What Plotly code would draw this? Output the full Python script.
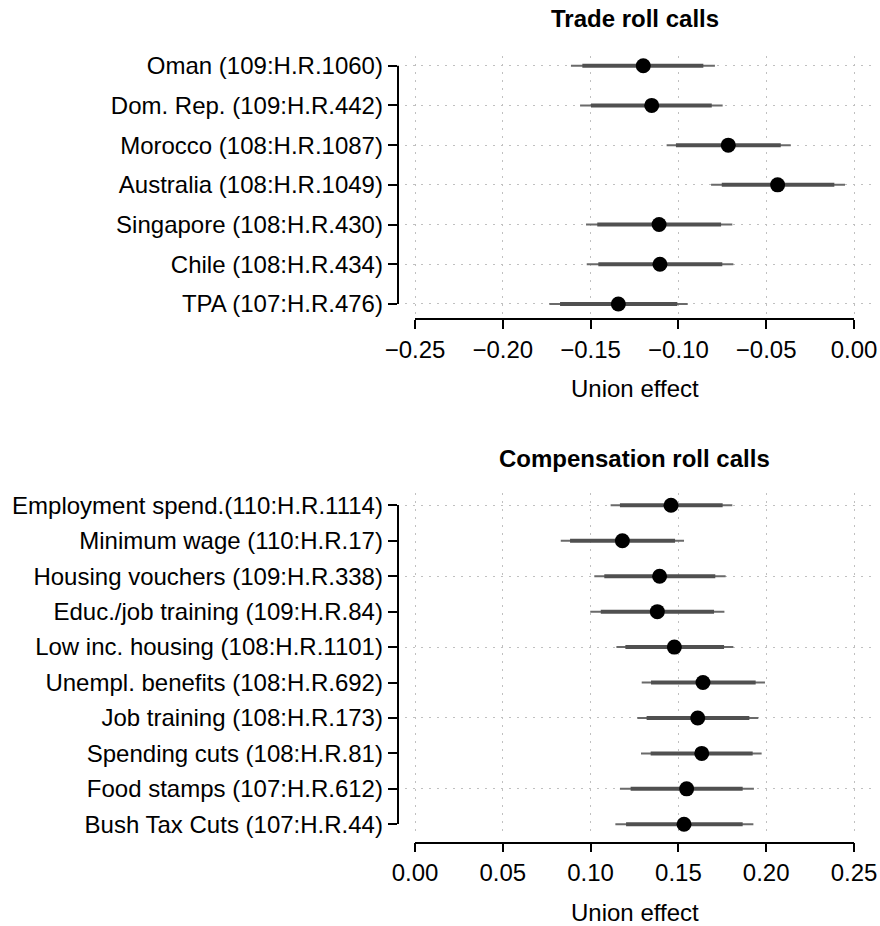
import plotly.graph_objects as go

W, H = 880, 926

# ---------------- data ----------------
trade_labels = ["Oman (109:H.R.1060)", "Dom. Rep. (109:H.R.442)", "Morocco (108:H.R.1087)",
                "Australia (108:H.R.1049)", "Singapore (108:H.R.430)", "Chile (108:H.R.434)",
                "TPA (107:H.R.476)"]
trade_est = [-0.1200, -0.1152, -0.0716, -0.0435, -0.1110, -0.1105, -0.1342]
trade_lo1 = [-0.1547, -0.1498, -0.1014, -0.0753, -0.1462, -0.1456, -0.1674]
trade_hi1 = [-0.0858, -0.0810, -0.0417, -0.0112, -0.0757, -0.0750, -0.1006]
trade_lo2 = [-0.1612, -0.1560, -0.1067, -0.0814, -0.1526, -0.1522, -0.1735]
trade_hi2 = [-0.0792, -0.0748, -0.0360, -0.0051, -0.0693, -0.0687, -0.0947]
trade_ticks = [-0.25, -0.20, -0.15, -0.10, -0.05, 0.00]
trade_ticktext = ["\u22120.25", "\u22120.20", "\u22120.15", "\u22120.10", "\u22120.05", "0.00"]

comp_labels = ["Employment spend.(110:H.R.1114)", "Minimum wage (110:H.R.17)",
               "Housing vouchers (109:H.R.338)", "Educ./job training (109:H.R.84)",
               "Low inc. housing (108:H.R.1101)", "Unempl. benefits (108:H.R.692)",
               "Job training (108:H.R.173)", "Spending cuts (108:H.R.81)",
               "Food stamps (107:H.R.612)", "Bush Tax Cuts (107:H.R.44)"]
comp_est = [0.1458, 0.1181, 0.1393, 0.1380, 0.1477, 0.1640, 0.1610, 0.1633, 0.1547, 0.1532]
comp_lo1 = [0.1167, 0.0883, 0.1078, 0.1058, 0.1198, 0.1344, 0.1319, 0.1342, 0.1228, 0.1202]
comp_hi1 = [0.1752, 0.1481, 0.1710, 0.1703, 0.1760, 0.1940, 0.1904, 0.1923, 0.1866, 0.1866]
comp_lo2 = [0.1114, 0.0830, 0.1021, 0.0998, 0.1147, 0.1291, 0.1266, 0.1287, 0.1167, 0.1141]
comp_hi2 = [0.1807, 0.1532, 0.1769, 0.1762, 0.1813, 0.1993, 0.1955, 0.1974, 0.1930, 0.1927]
comp_ticks = [0.00, 0.05, 0.10, 0.15, 0.20, 0.25]
comp_ticktext = ["0.00", "0.05", "0.10", "0.15", "0.20", "0.25"]

# ---------------- layout geometry (pixels) ----------------
FONT = "Liberation Sans, Arial, Helvetica, sans-serif"
FS = 24
X_L, X_R = 415.0, 854.0          # pixel span of the tick range
Y_AXIS_X = 397.5                  # x of the vertical axis line
GRID_COL = "#c0c0c0"
THIN_COL = "#6a6a6a"
THICK_COL = "#505050"

panels = [
    dict(labels=trade_labels, est=trade_est, lo1=trade_lo1, hi1=trade_hi1,
         lo2=trade_lo2, hi2=trade_hi2, ticks=trade_ticks, ticktext=trade_ticktext,
         row_top=65.7, row_bot=304.0, xaxis_y=319.3, title="Trade roll calls",
         title_y=18.5, xlab_y=388.0, grid_every=1),
    dict(labels=comp_labels, est=comp_est, lo1=comp_lo1, hi1=comp_hi1,
         lo2=comp_lo2, hi2=comp_hi2, ticks=comp_ticks, ticktext=comp_ticktext,
         row_top=505.3, row_bot=824.3, xaxis_y=842.7, title="Compensation roll calls",
         title_y=458.5, xlab_y=912.0, grid_every=2),
]


def px(x):
    return x / W


def py(y):
    return 1 - y / H


fig = go.Figure()
layout = dict(width=W, height=H, margin=dict(l=0, r=0, t=0, b=0),
              paper_bgcolor="white", plot_bgcolor="rgba(0,0,0,0)", showlegend=False,
              font=dict(family=FONT, size=FS, color="black"))
annotations = []

for i, p in enumerate(panels):
    n = len(p["labels"])
    rows = list(range(n, 0, -1))              # first label at top
    t0, t1 = p["ticks"][0], p["ticks"][-1]
    xspan = t1 - t0
    ext_px = 0.04 * (X_R - X_L)
    rspan = (p["row_bot"] - p["row_top"]) / (n - 1)
    ext_rows = 0.04 * (n - 1)

    # data subplot (full R plotting region, 4% extension)
    dx = "x" if i == 0 else "x2"
    dy = "y" if i == 0 else "y2"
    # display subplot (axes spanning only the tick range)
    ax = "x3" if i == 0 else "x4"
    ay = "y3" if i == 0 else "y4"

    grid_rows = [r for r in range(1, n + 1) if r % p["grid_every"] == 0]

    layout["xaxis" + dx[1:]] = dict(
        domain=[px(X_L - ext_px), px(X_R + ext_px)],
        range=[t0 - 0.04 * xspan, t1 + 0.04 * xspan],
        anchor=dy, tickvals=p["ticks"], showticklabels=False, ticks="",
        showline=False, zeroline=False, showgrid=True, gridcolor=GRID_COL,
        griddash="2px,6px", gridwidth=1, fixedrange=True)
    layout["yaxis" + dy[1:]] = dict(
        domain=[py(p["row_bot"] + ext_rows * rspan), py(p["row_top"] - ext_rows * rspan)],
        range=[1 - ext_rows, n + ext_rows],
        anchor=dx, tickvals=grid_rows, showticklabels=False, ticks="",
        showline=False, zeroline=False, showgrid=True, gridcolor=GRID_COL,
        griddash="2px,6px", gridwidth=1, fixedrange=True)

    layout["xaxis" + ax[1:]] = dict(
        domain=[px(X_L), px(X_R)], range=[t0, t1], anchor="free",
        position=py(p["xaxis_y"]), tickvals=p["ticks"], ticktext=p["ticktext"],
        ticks="outside", ticklen=9, tickwidth=1.5, tickcolor="black",
        showline=True, linecolor="black", linewidth=1.5, zeroline=False,
        showgrid=False, tickfont=dict(family=FONT, size=FS, color="black"),
        automargin=False, fixedrange=True)
    layout["yaxis" + ay[1:]] = dict(
        domain=[py(p["row_bot"]), py(p["row_top"])], range=[1, n], anchor="free",
        position=px(Y_AXIS_X), tickvals=rows, ticktext=p["labels"],
        ticks="outside", ticklen=9, tickwidth=1.5, tickcolor="black",
        showline=True, linecolor="black", linewidth=1.5, zeroline=False,
        showgrid=False, tickfont=dict(family=FONT, size=FS, color="black"),
        automargin=False, fixedrange=True)

    # invisible anchor trace so the display axes are drawn
    fig.add_trace(go.Scatter(x=[t0], y=[1], xaxis=ax, yaxis=ay, mode="markers",
                             marker=dict(opacity=0), hoverinfo="skip"))

    # thin (outer) intervals
    xs, ys = [], []
    for r, lo, hi in zip(rows, p["lo2"], p["hi2"]):
        xs += [lo, hi, None]
        ys += [r, r, None]
    fig.add_trace(go.Scatter(x=xs, y=ys, xaxis=dx, yaxis=dy, mode="lines",
                             line=dict(color=THIN_COL, width=2), hoverinfo="skip"))
    # thick (inner) intervals
    xs, ys = [], []
    for r, lo, hi in zip(rows, p["lo1"], p["hi1"]):
        xs += [lo, hi, None]
        ys += [r, r, None]
    fig.add_trace(go.Scatter(x=xs, y=ys, xaxis=dx, yaxis=dy, mode="lines",
                             line=dict(color=THICK_COL, width=4), hoverinfo="skip"))
    # point estimates
    fig.add_trace(go.Scatter(x=p["est"], y=rows, xaxis=dx, yaxis=dy, mode="markers",
                             marker=dict(color="black", size=15, line=dict(width=0)),
                             text=p["labels"], hovertemplate="%{text}: %{x:.3f}<extra></extra>"))

    cx = px((X_L + X_R) / 2)
    annotations.append(dict(text="<b>" + p["title"] + "</b>", x=cx, y=py(p["title_y"]),
                            xref="paper", yref="paper", showarrow=False,
                            xanchor="center", yanchor="middle",
                            font=dict(family=FONT, size=FS, color="black")))
    annotations.append(dict(text="Union effect", x=cx, y=py(p["xlab_y"]),
                            xref="paper", yref="paper", showarrow=False,
                            xanchor="center", yanchor="middle",
                            font=dict(family=FONT, size=FS, color="black")))

layout["annotations"] = annotations
fig.update_layout(**layout)
fig.write_html("out.html", config={"displayModeBar": False},
               post_script="document.body.style.margin='0px';"
                           "document.body.style.overflow='hidden';")
